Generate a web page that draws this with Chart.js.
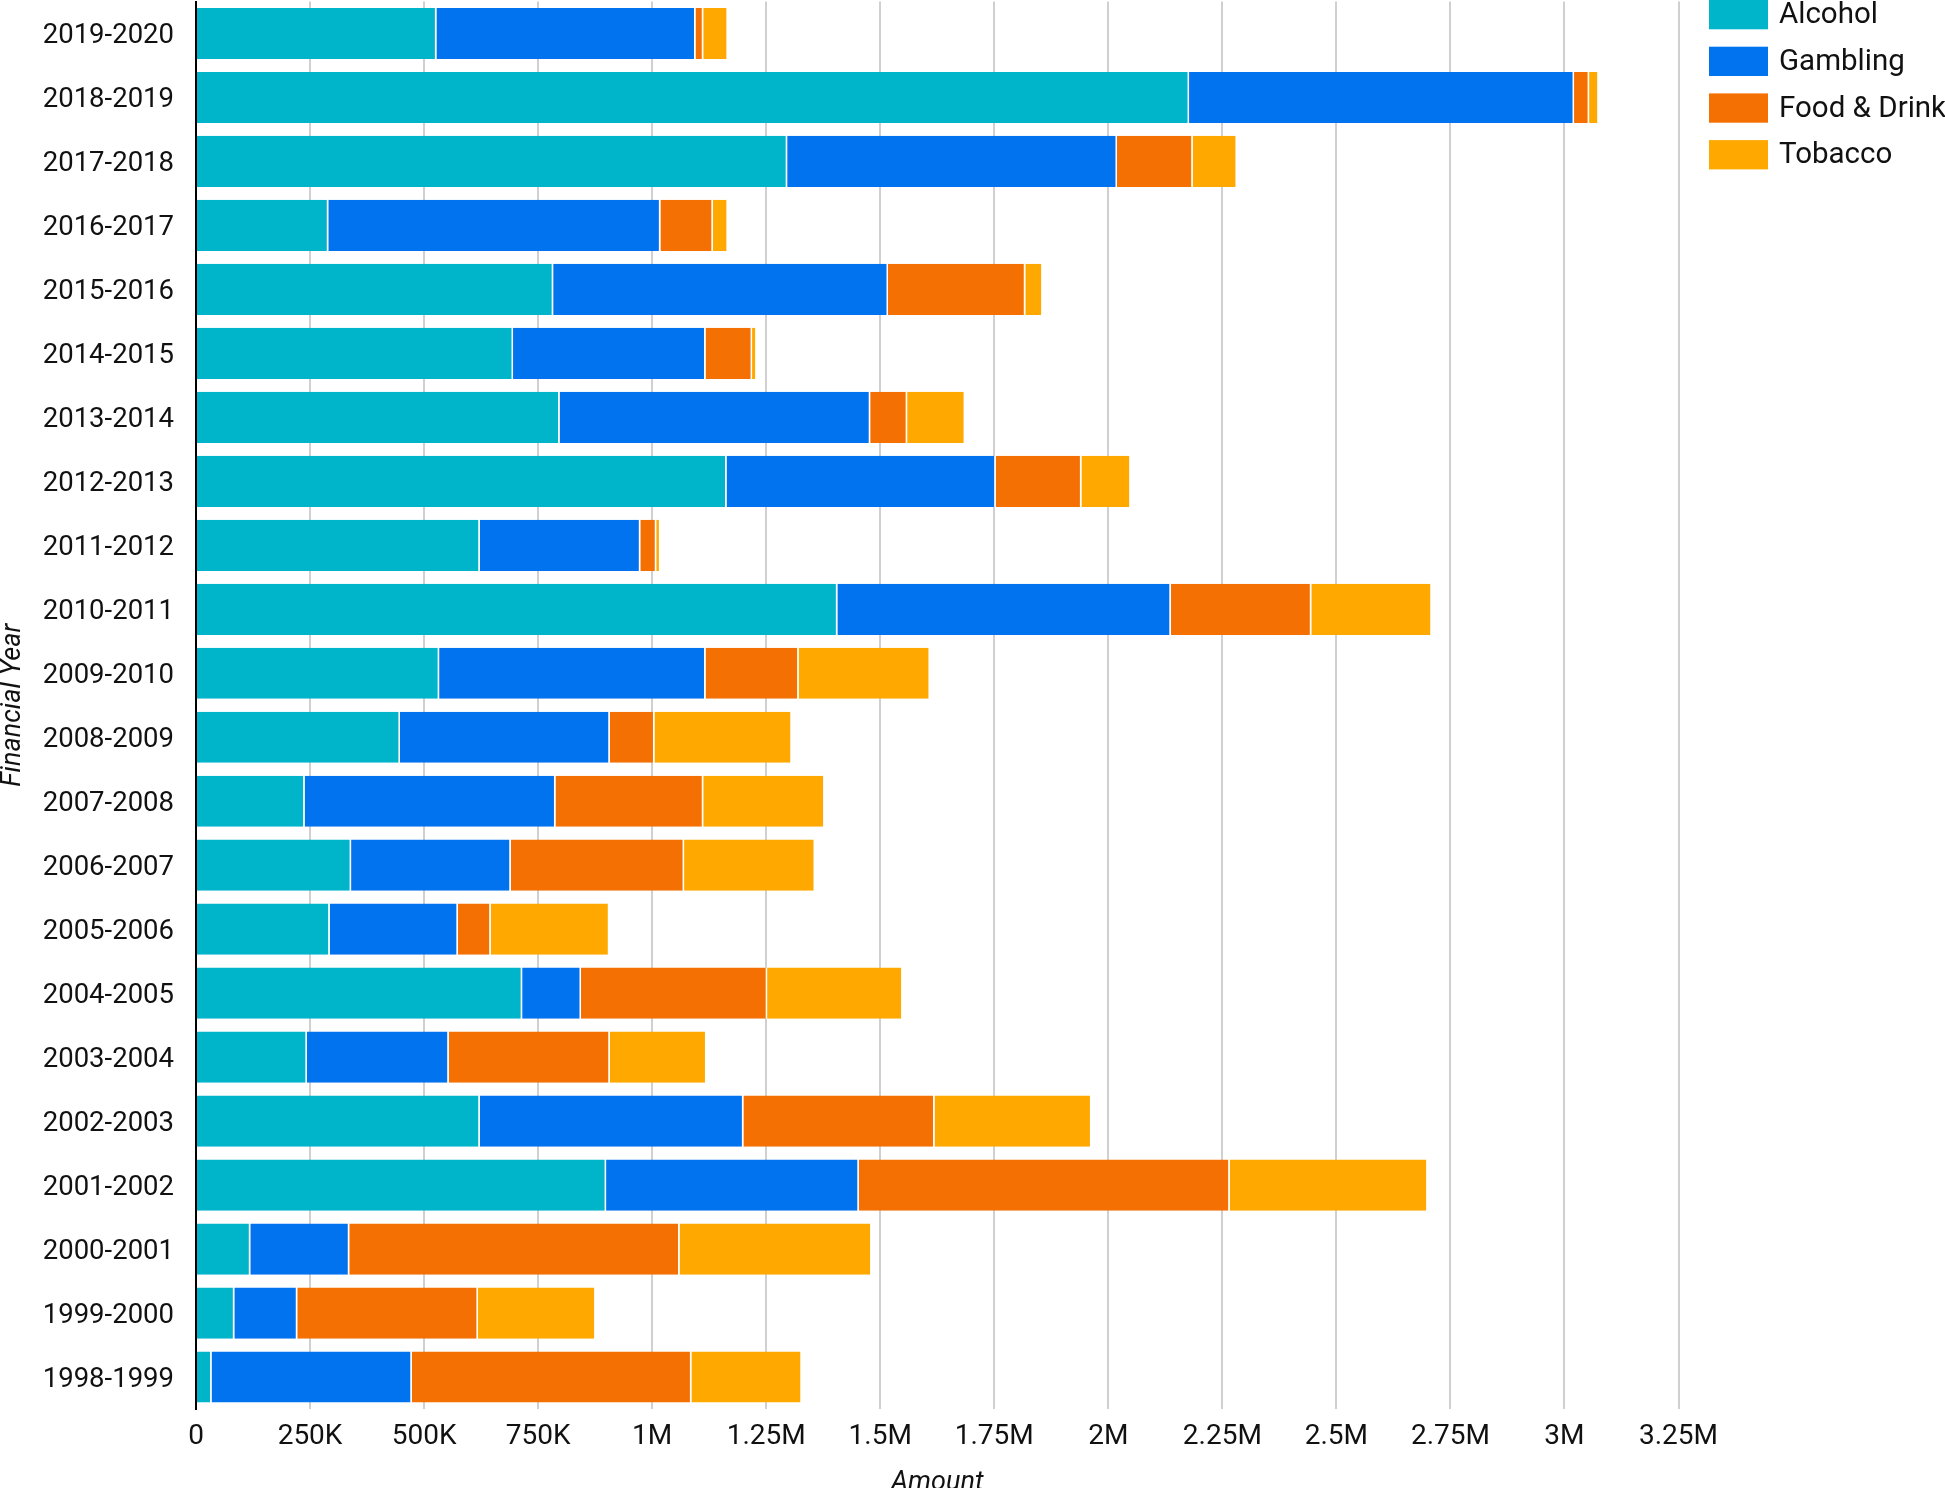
<!DOCTYPE html>
<html>
<head>
<meta charset="utf-8">
<script src="https://cdn.jsdelivr.net/npm/chart.js@4"></script>
<style>
  html, body { margin: 0; padding: 0; background: #fff; }
  #wrap { position: relative; width: 1945px; height: 1488px; }
</style>
</head>
<body>
<div id="wrap"><canvas id="chart"></canvas></div>
<script>
// financial years, top to bottom as in the picture
const years = [
  '2019-2020', '2018-2019', '2017-2018', '2016-2017', '2015-2016', '2014-2015',
  '2013-2014', '2012-2013', '2011-2012', '2010-2011', '2009-2010', '2008-2009',
  '2007-2008', '2006-2007', '2005-2006', '2004-2005', '2003-2004', '2002-2003',
  '2001-2002', '2000-2001', '1999-2000', '1998-1999'
];

const alcohol = [
  527000, 2177000, 1296000, 290000, 783000, 695000,
  797000, 1163000, 622000, 1406000, 533000, 447000,
  238000, 340000, 293000, 715000, 243000, 622000,
  899000, 119000, 84000, 34000
];
const gambling = [
  568000, 844000, 723000, 728000, 734000, 422000,
  681000, 590000, 352000, 731000, 584000, 460000,
  550000, 350000, 281000, 129000, 311000, 578000,
  554000, 217000, 138000, 439000
];
const foodDrink = [
  17000, 33000, 166000, 115000, 301000, 102000,
  81000, 188000, 35000, 308000, 204000, 98000,
  324000, 380000, 72000, 408000, 353000, 419000,
  813000, 724000, 396000, 613000
];
const tobacco = [
  54000, 21000, 97000, 33000, 38000, 10000,
  127000, 108000, 9000, 264000, 288000, 301000,
  266000, 287000, 260000, 297000, 212000, 344000,
  434000, 421000, 258000, 242000
];

const seriesNames = ['Alcohol', 'Gambling', 'Food & Drink', 'Tobacco'];
const seriesColors = ['#00b4c9', '#0273ee', '#f57002', '#fea800'];

const FONT = 'Roboto, "Noto Sans", Arial, sans-serif';

function fmtAmount(v) {
  if (v === 0) return '0';
  if (v >= 1000000) return (v / 1000000) + 'M';
  return (v / 1000) + 'K';
}

// legend in the right margin, stacked boxes + labels
const sideLegend = {
  id: 'sideLegend',
  afterDraw(chart) {
    const ctx = chart.ctx;
    ctx.save();
    ctx.font = '29.5px ' + FONT;
    ctx.textBaseline = 'middle';
    ctx.textAlign = 'left';
    chart.data.datasets.forEach((ds, i) => {
      const y = i * 46.7;
      ctx.fillStyle = ds.backgroundColor;
      ctx.fillRect(1709, y, 59, 29.3);
      ctx.fillStyle = '#111';
      ctx.fillText(ds.label, 1779, y + 16);
    });
    ctx.restore();
  }
};

const datasets = [alcohol, gambling, foodDrink, tobacco].map((vals, i) => ({
  label: seriesNames[i],
  data: vals,
  backgroundColor: seriesColors[i],
  borderColor: '#ffffff',
  borderWidth: { top: 0, bottom: 0, left: 0, right: 1.5 },
  borderSkipped: false,
  categoryPercentage: 0.8,
  barPercentage: 1.0
}));

new Chart(document.getElementById('chart'), {
  type: 'bar',
  data: { labels: years, datasets },
  options: {
    indexAxis: 'y',
    responsive: true,
    maintainAspectRatio: false,
    animation: false,
    layout: { padding: { top: 1.5, right: 266.5, left: 0, bottom: 0 } },
    plugins: {
      legend: { display: false },
      tooltip: { enabled: false }
    },
    scales: {
      x: {
        stacked: true,
        min: 0,
        max: 3250000,
        afterFit(scale) { scale.height = 79; },
        ticks: {
          stepSize: 250000,
          autoSkip: false,
          maxRotation: 0,
          padding: 11,
          color: '#111',
          font: { family: FONT, size: 28 },
          callback: v => fmtAmount(v)
        },
        grid: {
          drawTicks: false,
          color: c => (c.tick && c.tick.value === 0) ? '#000' : '#d0d0d0',
          lineWidth: 2
        },
        border: { display: false },
        title: {
          display: true,
          text: 'Amount',
          color: '#111',
          font: { family: FONT, size: 27, style: 'italic', lineHeight: 1.2 },
          padding: { top: 0, bottom: -11 }
        }
      },
      y: {
        stacked: true,
        afterFit(scale) {
          scale.width = 196;
          scale.paddingTop = 0;
          scale.paddingBottom = 0;
        },
        ticks: {
          padding: 22,
          labelOffset: 3,
          color: '#111',
          font: { family: FONT, size: 27.5 }
        },
        grid: { display: false, drawTicks: false },
        border: { display: true, color: '#000', width: 2 },
        title: {
          display: true,
          text: 'Financial Year',
          color: '#111',
          font: { family: FONT, size: 27, style: 'italic', lineHeight: 1 },
          padding: { top: 0, bottom: 0 }
        }
      }
    }
  },
  plugins: [sideLegend]
});
</script>
</body>
</html>
